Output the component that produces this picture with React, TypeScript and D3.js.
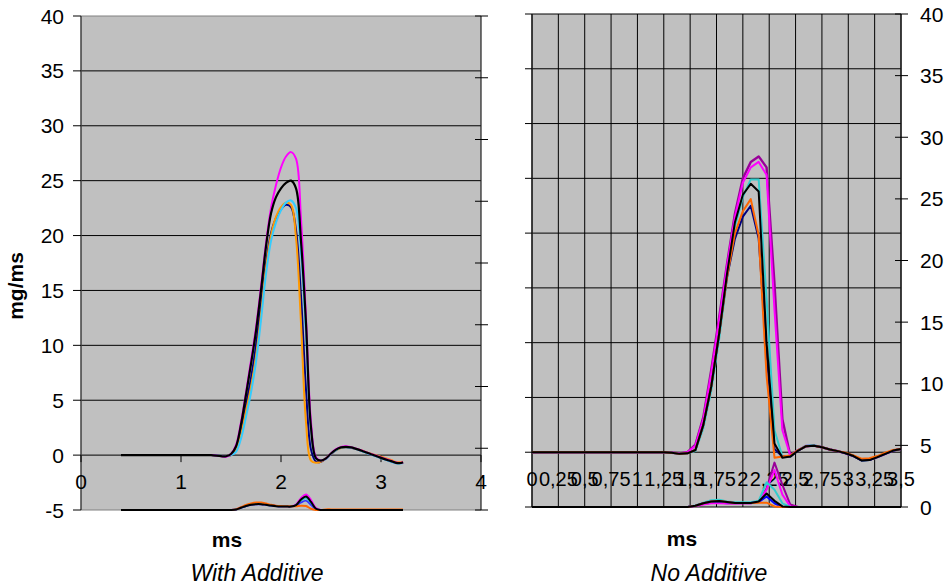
import React from 'react';
import * as d3 from 'd3';

const FONT = '"Liberation Sans", Arial, Helvetica, sans-serif';

// ---------- Left panel: "With Additive" ----------
const timeLeft = [0.4, 0.8, 1.2, 1.3, 1.4, 1.45, 1.5, 1.55, 1.6, 1.65, 1.7, 1.75, 1.8, 1.85, 1.9, 1.95, 2.0, 2.05, 2.1, 2.15, 2.2, 2.25, 2.3, 2.35, 2.4, 2.45, 2.5, 2.55, 2.6, 2.65, 2.7, 2.8, 2.9, 3.0, 3.1, 3.15, 3.2, 3.22];

const leftBlack = [0, 0, 0, 0, -0.1, -0.1, 0.1, 0.8, 2.8, 5.5, 8.3, 11.3, 15.0, 19.0, 22.0, 23.5, 24.3, 24.8, 25.0, 24.3, 19.5, 12.0, 2.5, -0.3, -0.5, -0.3, 0.15, 0.5, 0.7, 0.75, 0.7, 0.42, 0.08, -0.25, -0.55, -0.7, -0.72, -0.66];
const leftMagenta = [0, 0, 0, 0, -0.1, -0.15, 0.1, 0.9, 3.0, 5.7, 8.6, 11.6, 15.3, 19.3, 22.5, 24.6, 26.2, 27.2, 27.6, 27.0, 21.5, 12.5, 3.0, -0.2, -0.5, -0.3, 0.15, 0.55, 0.75, 0.8, 0.72, 0.45, 0.1, -0.22, -0.52, -0.68, -0.7, -0.65];
const leftCyan = [0, 0, 0, 0, -0.05, -0.1, 0.0, 0.3, 1.5, 3.5, 5.7, 8.5, 12.3, 16.5, 19.5, 21.2, 22.3, 23.0, 23.2, 22.5, 18.5, 11.0, 2.5, -0.3, -0.5, -0.35, 0.1, 0.45, 0.68, 0.72, 0.66, 0.4, 0.05, -0.28, -0.6, -0.75, -0.75, -0.7];
const leftOrange = [0, 0, 0, 0, -0.05, -0.1, 0.0, 0.4, 1.8, 4.0, 6.2, 9.0, 12.8, 17.0, 20.0, 21.7, 22.6, 23.0, 22.8, 19.8, 12.0, 3.0, -0.5, -0.7, -0.6, -0.3, 0.1, 0.45, 0.65, 0.72, 0.68, 0.45, 0.12, -0.15, -0.45, -0.62, -0.65, -0.6];
const leftNavy = [0, 0, 0, 0, -0.05, -0.1, 0.0, 0.5, 2.2, 4.6, 7.0, 10.0, 13.8, 17.5, 20.2, 21.6, 22.4, 22.8, 22.6, 20.5, 14.5, 6.0, 0.5, -0.6, -0.6, -0.3, 0.1, 0.45, 0.68, 0.72, 0.66, 0.42, 0.08, -0.25, -0.55, -0.7, -0.72, -0.66];

// secondary-axis (0..40) series, left panel
const leftLowMagenta = [
  0, 0, 0, 0, 0, 0, 0, 0.05, 0.2, 0.35,
  0.45, 0.5, 0.5, 0.45, 0.38, 0.33, 0.3, 0.3, 0.3, 0.45,
  0.95, 1.25, 0.8, 0.15, 0, 0, 0, 0, 0, 0,
  0, 0, 0, 0, 0, 0, 0, 0];
const leftLowBlack = [
  0, 0, 0, 0, 0, 0, 0, 0.04, 0.18, 0.32,
  0.42, 0.47, 0.47, 0.42, 0.36, 0.31, 0.28, 0.28, 0.28, 0.4,
  0.85, 1.1, 0.65, 0.1, 0, 0, 0, 0, 0, 0,
  0, 0, 0, 0, 0, 0, 0, 0];
const leftLowCyan = [
  0, 0, 0, 0, 0, 0, 0, 0.04, 0.18, 0.33,
  0.44, 0.5, 0.5, 0.44, 0.37, 0.32, 0.3, 0.3, 0.3, 0.4,
  0.75, 0.95, 0.55, 0.08, 0, 0, 0, 0, 0, 0,
  0, 0, 0, 0, 0, 0, 0, 0];
const leftLowBlue = [
  0, 0, 0, 0, 0, 0, 0, 0.03, 0.16, 0.3,
  0.4, 0.45, 0.45, 0.4, 0.35, 0.3, 0.28, 0.28, 0.28, 0.35,
  0.6, 0.75, 0.4, 0.05, 0, 0, 0, 0, 0, 0,
  0, 0, 0, 0, 0, 0, 0, 0];
const leftLowOrange = [
  0, 0, 0, 0, 0, 0, 0, 0.05, 0.22, 0.4,
  0.52, 0.6, 0.6, 0.52, 0.42, 0.35, 0.32, 0.3, 0.3, 0.3,
  0.35, 0.32, 0.1, 0, 0, 0.05, 0.05, 0.05, 0.05, 0.05,
  0.05, 0.05, 0.05, 0.05, 0.05, 0.05, 0.05, 0.05];

// ---------- Right panel: "No Additive" ----------
const timeRight = [0, 0.25, 0.5, 0.75, 1.0, 1.25, 1.325, 1.4, 1.475, 1.55, 1.625, 1.7, 1.775, 1.85, 1.925, 2.0, 2.075, 2.15, 2.225, 2.3, 2.375, 2.45, 2.525, 2.6, 2.675, 2.75, 2.825, 2.9, 2.975, 3.05, 3.125, 3.2, 3.275, 3.35, 3.425, 3.5];

const rightPurple = [
  0, 0, 0, 0, 0, 0, -0.05, -0.1, 0.0, 0.7,
  3.2, 7.5, 12.3, 17.2, 21.8, 25.0, 26.5, 27.0, 26.0, 15.4,
  3.0, -0.3, 0.2, 0.55, 0.6, 0.45, 0.25, 0.1, -0.1, -0.35,
  -0.72, -0.7, -0.45, -0.15, 0.15, 0.3];
const rightMagenta = [
  0, 0, 0, 0, 0, 0, -0.05, -0.1, 0.0, 0.6,
  3.0, 7.2, 12.0, 17.0, 21.5, 24.6, 26.0, 26.5, 25.3, 13.0,
  2.0, -0.3, 0.2, 0.6, 0.62, 0.45, 0.25, 0.1, -0.1, -0.35,
  -0.72, -0.7, -0.45, -0.15, 0.15, 0.3];
const rightCyan = [
  0, 0, 0, 0, 0, 0, -0.05, -0.15, -0.1, 0.1,
  2.2, 5.6, 10.3, 15.8, 20.6, 23.3, 24.9, 24.9, 14.0, 2.0,
  -0.4, -0.4, 0.2, 0.6, 0.65, 0.45, 0.25, 0.1, -0.1, -0.35,
  -0.75, -0.72, -0.45, -0.15, 0.15, 0.3];
const rightBlack = [
  0, 0, 0, 0, 0, 0, -0.05, -0.15, -0.1, 0.2,
  2.5, 6.0, 10.8, 16.3, 21.0, 23.5, 24.5, 23.8, 10.0, 0.8,
  -0.5, -0.4, 0.15, 0.55, 0.6, 0.45, 0.25, 0.1, -0.1, -0.35,
  -0.75, -0.72, -0.45, -0.15, 0.15, 0.3];
const rightOrange = [
  0, 0, 0, 0, 0, 0, -0.05, -0.15, -0.1, 0.2,
  2.5, 6.0, 10.8, 16.0, 20.0, 22.0, 23.1, 19.8, 7.0, -0.5,
  -0.4, -0.3, 0.2, 0.55, 0.6, 0.45, 0.25, 0.1, -0.05, -0.3,
  -0.6, -0.55, -0.35, -0.05, 0.2, 0.3];
const rightNavy = [
  0, 0, 0, 0, 0, 0, -0.05, -0.15, -0.1, 0.2,
  2.5, 6.0, 10.8, 16.0, 19.5, 21.5, 22.5, 19.5, 9.0, 0.3,
  -0.4, -0.4, 0.15, 0.55, 0.6, 0.45, 0.25, 0.1, -0.1, -0.35,
  -0.75, -0.72, -0.45, -0.15, 0.15, 0.3];

// secondary-axis (0..40) series, right panel
const rightLowPurple = [
  0, 0, 0, 0, 0, 0, 0, 0, 0, 0.1,
  0.25, 0.35, 0.35, 0.3, 0.3, 0.3, 0.3, 0.4, 1.5, 3.6,
  1.8, 0.2, 0, 0, 0, 0, 0, 0, 0, 0,
  0, 0, 0, 0, 0, 0];
const rightLowMagenta = [
  0, 0, 0, 0, 0, 0, 0, 0, 0, 0.08,
  0.2, 0.3, 0.3, 0.28, 0.28, 0.3, 0.3, 0.45, 1.4, 3.0,
  1.0, 0.05, 0, 0, 0, 0, 0, 0, 0, 0,
  0, 0, 0, 0, 0, 0];
const rightLowCyan = [
  0, 0, 0, 0, 0, 0, 0, 0, 0, 0.12,
  0.35, 0.55, 0.58, 0.45, 0.38, 0.38, 0.38, 0.5, 2.0, 1.4,
  0.3, 0, 0, 0, 0, 0, 0, 0, 0, 0,
  0, 0, 0, 0, 0, 0];
const rightLowBlack = [
  0, 0, 0, 0, 0, 0, 0, 0, 0, 0.1,
  0.3, 0.45, 0.48, 0.4, 0.33, 0.33, 0.33, 0.45, 1.1, 0.5,
  0.05, 0, 0, 0, 0, 0, 0, 0, 0, 0,
  0, 0, 0, 0, 0, 0];
const rightLowBlue = [
  0, 0, 0, 0, 0, 0, 0, 0, 0, 0.1,
  0.3, 0.42, 0.45, 0.38, 0.32, 0.32, 0.32, 0.4, 0.85, 0.3,
  0, 0, 0, 0, 0, 0, 0, 0, 0, 0,
  0, 0, 0, 0, 0, 0];
const rightLowOrange = [
  0, 0, 0, 0, 0, 0, 0, 0, 0, 0.1,
  0.3, 0.45, 0.48, 0.4, 0.33, 0.33, 0.33, 0.35, 0.35, 0.05,
  0, 0, 0, 0, 0, 0, 0, 0, 0, 0,
  0, 0, 0, 0, 0, 0];

// ---------- ticks ----------
const primaryTicks = [-5, 0, 5, 10, 15, 20, 25, 30, 35, 40];
const secondaryTicks = [0, 5, 10, 15, 20, 25, 30, 35, 40];
const leftXTicks = [0, 1, 2, 3, 4];
const rightXTicks = [0, 0.25, 0.5, 0.75, 1, 1.25, 1.5, 1.75, 2, 2.25, 2.5, 2.75, 3, 3.25, 3.5];
const rightXLabels = ['0', '0,25', '0,5', '0,75', '1', '1,25', '1,5', '1,75', '2', '2,25', '2,5', '2,75', '3', '3,25', '3,5'];

type Series = { values: number[]; color: string; width: number };

export default function App() {
  // scales
  const xL = d3.scaleLinear().domain([0, 4]).range([81, 481]);
  const yL = d3.scaleLinear().domain([-5, 40]).range([510, 16]);
  const yL2 = d3.scaleLinear().domain([0, 40]).range([510, 16]);

  const xR = d3.scaleLinear().domain([0, 3.5]).range([532, 901]);
  const yR = d3.scaleLinear().domain([-5, 40]).range([507, 14]);
  const yR2 = d3.scaleLinear().domain([0, 40]).range([507, 14]);

  const mkPath = (
    t: number[],
    vals: number[],
    x: d3.ScaleLinear<number, number>,
    y: d3.ScaleLinear<number, number>,
    smooth: boolean
  ) => {
    const pts: [number, number][] = t
      .map((tt, i) => [tt, vals[i]] as [number, number])
      .filter((p) => p[1] !== undefined);
    const gen = d3
      .line<[number, number]>()
      .x((d) => x(d[0]))
      .y((d) => y(d[1]))
      .curve(smooth ? d3.curveCatmullRom.alpha(0.5) : d3.curveLinear);
    return gen(pts) || '';
  };

  const leftMain: Series[] = [
    { values: leftNavy, color: '#000080', width: 2 },
    { values: leftOrange, color: '#ff9900', width: 2 },
    { values: leftCyan, color: '#33ccff', width: 2 },
    { values: leftMagenta, color: '#ff00ff', width: 2 },
    { values: leftBlack, color: '#000000', width: 2.2 },
  ];
  const leftLow: Series[] = [
    { values: leftLowMagenta, color: '#ff00ff', width: 2 },
    { values: leftLowCyan, color: '#33cccc', width: 2 },
    { values: leftLowBlue, color: '#3333ff', width: 1.6 },
    { values: leftLowOrange, color: '#ff6600', width: 2 },
    { values: leftLowBlack, color: '#000000', width: 2 },
  ];
  const rightMain: Series[] = [
    { values: rightPurple, color: '#990099', width: 2.4 },
    { values: rightMagenta, color: '#ff00ff', width: 2 },
    { values: rightCyan, color: '#33cccc', width: 2 },
    { values: rightNavy, color: '#000080', width: 2 },
    { values: rightOrange, color: '#ff6600', width: 2 },
    { values: rightBlack, color: '#000000', width: 2 },
  ];
  const rightLow: Series[] = [
    { values: rightLowPurple, color: '#990099', width: 2 },
    { values: rightLowMagenta, color: '#ff00ff', width: 2 },
    { values: rightLowCyan, color: '#33cccc', width: 2 },
    { values: rightLowBlue, color: '#0000ff', width: 2 },
    { values: rightLowOrange, color: '#ff6600', width: 2 },
    { values: rightLowBlack, color: '#000000', width: 2 },
  ];

  const tickFont = 21;

  return (
    <svg
      width={949}
      height={587}
      style={{ position: 'absolute', left: 0, top: 0, background: '#ffffff' }}
      fontFamily={FONT}
    >
      <rect x={0} y={0} width={949} height={587} fill="#ffffff" />

      {/* ================= LEFT PANEL ================= */}
      <rect x={xL(0)} y={yL(40)} width={xL(4) - xL(0)} height={yL(-5) - yL(40)} fill="#c0c0c0" />
      {primaryTicks.map((v) => (
        <line
          key={'lg' + v}
          x1={xL(0)}
          x2={xL(4)}
          y1={yL(v)}
          y2={yL(v)}
          stroke={v === 40 || v === -5 ? '#808080' : '#000000'}
          strokeWidth={1}
        />
      ))}
      {/* left y axis */}
      <line x1={xL(0)} x2={xL(0)} y1={yL(40)} y2={yL(-5)} stroke="#404040" strokeWidth={1.5} />
      {primaryTicks.map((v) => (
        <g key={'lyt' + v}>
          <line x1={xL(0) - 8} x2={xL(0)} y1={yL(v)} y2={yL(v)} stroke="#000" strokeWidth={1} />
          <text x={64} y={yL(v) + 7.5} textAnchor="end" fontSize={tickFont} fill="#000">
            {v}
          </text>
        </g>
      ))}
      {/* secondary axis (right edge, unlabeled) */}
      <line x1={xL(4)} x2={xL(4)} y1={yL2(40)} y2={yL2(0)} stroke="#202020" strokeWidth={1.2} />
      {secondaryTicks.map((v) => (
        <line key={'l2t' + v} x1={xL(4) - 6} x2={xL(4) + 7} y1={yL2(v)} y2={yL2(v)} stroke="#000" strokeWidth={1} />
      ))}
      {/* x axis ticks and labels at y = 0 */}
      {leftXTicks.map((v) => (
        <g key={'lxt' + v}>
          <line x1={xL(v)} x2={xL(v)} y1={yL(0)} y2={yL(0) + 7} stroke="#000" strokeWidth={1} />
          <text x={xL(v)} y={yL(0) + 34} textAnchor="middle" fontSize={tickFont} fill="#000">
            {v}
          </text>
        </g>
      ))}
      {/* series */}
      {leftLow.map((s, i) => (
        <path key={'lls' + i} d={mkPath(timeLeft, s.values, xL, yL2, true)} fill="none" stroke={s.color} strokeWidth={s.width} />
      ))}
      {leftMain.map((s, i) => (
        <path key={'lms' + i} d={mkPath(timeLeft, s.values, xL, yL, true)} fill="none" stroke={s.color} strokeWidth={s.width} />
      ))}
      {/* titles */}
      <text
        transform={`translate(23, 286) rotate(-90)`}
        textAnchor="middle"
        fontSize={21}
        fontWeight="bold"
        fill="#000"
      >
        mg/ms
      </text>
      <text x={227} y={547} textAnchor="middle" fontSize={21} fontWeight="bold" fill="#000">
        ms
      </text>
      <text x={257} y={581} textAnchor="middle" fontSize={23} fontStyle="italic" fill="#000">
        With Additive
      </text>

      {/* ================= RIGHT PANEL ================= */}
      <rect x={xR(0)} y={yR(40)} width={xR(3.5) - xR(0)} height={yR(-5) - yR(40)} fill="#c0c0c0" />
      {primaryTicks.map((v) => (
        <line key={'rg' + v} x1={xR(0)} x2={xR(3.5)} y1={yR(v)} y2={yR(v)} stroke="#000" strokeWidth={1} />
      ))}
      {rightXTicks.map((v) => (
        <line key={'rv' + v} x1={xR(v)} x2={xR(v)} y1={yR(40)} y2={yR(-5)} stroke="#000" strokeWidth={1} />
      ))}
      {/* primary axis ticks (unlabeled) */}
      <line x1={xR(0)} x2={xR(0)} y1={yR(40)} y2={yR(-5)} stroke="#202020" strokeWidth={1.3} />
      {primaryTicks.map((v) => (
        <line key={'rpt' + v} x1={xR(0) - 7} x2={xR(0)} y1={yR(v)} y2={yR(v)} stroke="#000" strokeWidth={1} />
      ))}
      {/* secondary axis (right, labeled) */}
      <line x1={xR(3.5)} x2={xR(3.5)} y1={yR2(40)} y2={yR2(0)} stroke="#202020" strokeWidth={1.3} />
      {secondaryTicks.map((v) => (
        <g key={'r2t' + v}>
          <line x1={xR(3.5) - 6} x2={xR(3.5) + 7} y1={yR2(v)} y2={yR2(v)} stroke="#000" strokeWidth={1} />
          <text x={920} y={yR2(v) + 7.5} textAnchor="start" fontSize={tickFont} fill="#000">
            {v}
          </text>
        </g>
      ))}
      {/* x labels (category-style, overlapping) */}
      {rightXTicks.map((v, i) => (
        <text key={'rxl' + v} x={xR(v)} y={yR(0) + 34} textAnchor="middle" fontSize={20} fill="#000">
          {rightXLabels[i]}
        </text>
      ))}
      {/* series */}
      {rightLow.map((s, i) => (
        <path key={'rls' + i} d={mkPath(timeRight, s.values, xR, yR2, false)} fill="none" stroke={s.color} strokeWidth={s.width} strokeLinejoin="round" />
      ))}
      {rightMain.map((s, i) => (
        <path key={'rms' + i} d={mkPath(timeRight, s.values, xR, yR, false)} fill="none" stroke={s.color} strokeWidth={s.width} strokeLinejoin="round" />
      ))}
      <text x={682} y={546} textAnchor="middle" fontSize={21} fontWeight="bold" fill="#000">
        ms
      </text>
      <text x={709} y={581} textAnchor="middle" fontSize={23} fontStyle="italic" fill="#000">
        No Additive
      </text>
    </svg>
  );
}
